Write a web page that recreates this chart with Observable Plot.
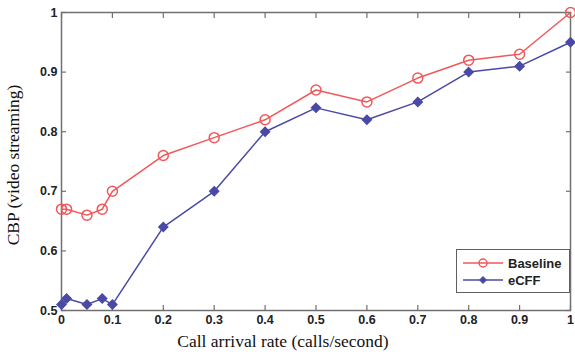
<!DOCTYPE html>
<html>
<head>
<meta charset="utf-8">
<script src="https://cdn.jsdelivr.net/npm/d3@7"></script>
<script src="https://cdn.jsdelivr.net/npm/@observablehq/plot@0.6"></script>
<style>
  html, body { margin: 0; padding: 0; background: #fff; }
  #wrap { position: relative; width: 575px; height: 360px; }
  #legend { position: absolute; left: 456px; top: 249px; width: 112px; height: 42px;
    border: 1.5px solid #606060; background: #fff; font-family: "Liberation Sans", Arial, sans-serif;
    font-size: 13px; font-weight: bold; color: #222; }
  .yl { font-family: "Liberation Serif", "Times New Roman", serif; font-size: 17.5px; }
</style>
</head>
<body>
<div id="wrap"></div>
<script>
const rates = [0, 0.01, 0.05, 0.08, 0.1, 0.2, 0.3, 0.4, 0.5, 0.6, 0.7, 0.8, 0.9, 1.0];
const baseline = [0.67, 0.67, 0.66, 0.67, 0.70, 0.76, 0.79, 0.82, 0.87, 0.85, 0.89, 0.92, 0.93, 1.0];
const ecff = [0.51, 0.52, 0.51, 0.52, 0.51, 0.64, 0.70, 0.80, 0.84, 0.82, 0.85, 0.90, 0.91, 0.95];
const xTicks = [0, 0.1, 0.2, 0.3, 0.4, 0.5, 0.6, 0.7, 0.8, 0.9, 1];
const yTicks = [0.5, 0.6, 0.7, 0.8, 0.9, 1];
const seriesNames = ["Baseline", "eCFF"];
const seriesColors = ["#f0585a", "#4a4aa6"];

const bData = rates.map((x, i) => ({x, y: baseline[i]}));
const eData = rates.map((x, i) => ({x, y: ecff[i]}));
const fmt = d => String(+d.toFixed(1));
const axisColor = "#707070";

const chart = Plot.plot({
  width: 575,
  height: 360,
  marginLeft: 61,
  marginRight: 5,
  marginTop: 12,
  marginBottom: 50,
  style: {fontFamily: "'Liberation Sans', Arial, sans-serif", fontSize: "12.5px", fontWeight: "bold", color: "#222", background: "#fff"},
  x: {domain: [0, 1]},
  y: {domain: [0.5, 1]},
  marks: [
    Plot.frame({stroke: axisColor, strokeWidth: 1.5}),
    Plot.axisX({ticks: xTicks, tickSize: -5, text: null, stroke: axisColor, strokeWidth: 1.2, label: null}),
    Plot.axisX({anchor: "top", ticks: xTicks, tickSize: -5, text: null, stroke: axisColor, strokeWidth: 1.2, label: null}),
    Plot.axisX({ticks: xTicks, tickSize: 0, tickPadding: 5, tickFormat: fmt, label: null, fill: "#222"}),
    Plot.axisY({ticks: yTicks, tickSize: -5, text: null, stroke: axisColor, strokeWidth: 1.2, label: null}),
    Plot.axisY({anchor: "right", ticks: yTicks, tickSize: -5, text: null, stroke: axisColor, strokeWidth: 1.2, label: null}),
    Plot.axisY({ticks: yTicks, tickSize: 0, tickPadding: 4, tickFormat: fmt, label: null, fill: "#222"}),
    Plot.line(bData, {x: "x", y: "y", stroke: seriesColors[0], strokeWidth: 1.5}),
    Plot.dot(bData, {x: "x", y: "y", stroke: seriesColors[0], strokeWidth: 1.5, r: 5, fill: "none"}),
    Plot.line(eData, {x: "x", y: "y", stroke: seriesColors[1], strokeWidth: 1.5}),
    Plot.dot(eData, {x: "x", y: "y", symbol: "diamond2", fill: seriesColors[1], stroke: seriesColors[1], r: 4})
  ]
});
const wrap = document.getElementById("wrap");
wrap.appendChild(chart);

// axis titles
const svg = d3.select(chart);
svg.append("text").attr("class", "yl").attr("x", 283).attr("y", 347)
  .attr("text-anchor", "middle").attr("fill", "#111").style("font-weight", "normal")
  .text("Call arrival rate (calls/second)");
svg.append("text").attr("class", "yl").attr("transform", "translate(19,165) rotate(-90)")
  .attr("text-anchor", "middle").attr("fill", "#111").style("font-weight", "normal")
  .text("CBP (video streaming)");

// legend
const leg = document.createElement("div");
leg.id = "legend";
const ls = d3.create("svg").attr("width", 112).attr("height", 42);
seriesNames.forEach((name, i) => {
  const y = 13 + i * 17;
  const g = ls.append("g");
  g.append("line").attr("x1", 6).attr("x2", 46).attr("y1", y).attr("y2", y)
    .attr("stroke", seriesColors[i]).attr("stroke-width", 1.5);
  if (i === 0) {
    g.append("circle").attr("cx", 26).attr("cy", y).attr("r", 4).attr("fill", "none")
      .attr("stroke", seriesColors[i]).attr("stroke-width", 1.5);
  } else {
    g.append("path").attr("d", d3.symbol(d3.symbolDiamond2, 40)()).attr("transform", `translate(26,${y})`)
      .attr("fill", seriesColors[i]);
  }
  g.append("text").attr("x", 51).attr("y", y + 5).attr("fill", "#222")
    .style("font-family", "'Liberation Sans', Arial, sans-serif").style("font-size", "13px").style("font-weight", "bold")
    .text(name);
});
leg.appendChild(ls.node());
wrap.appendChild(leg);
</script>
</body>
</html>
